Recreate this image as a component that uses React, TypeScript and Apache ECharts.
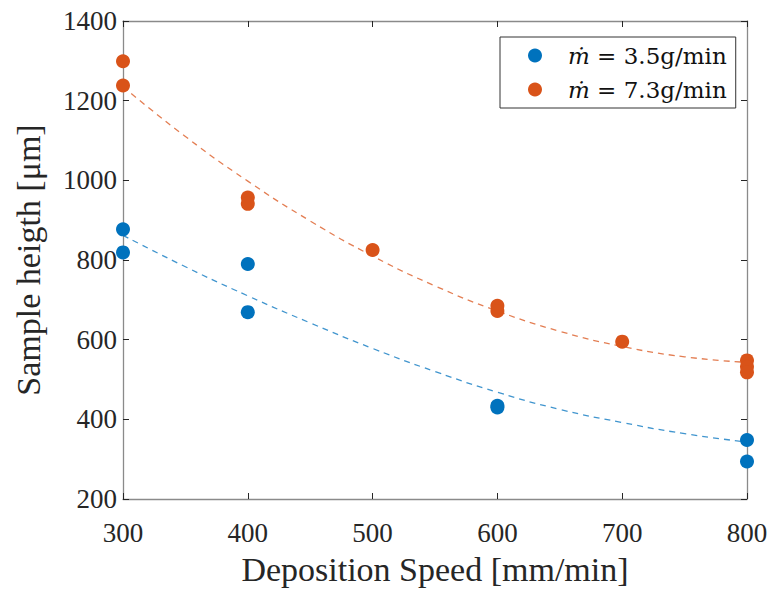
import React, { useEffect, useRef } from "react";
import * as echarts from "echarts";

const speeds35 = [300, 300, 400, 400, 600, 600, 800, 800];
const heights35 = [877, 819, 790, 669, 434, 430, 348, 294];
const speeds73 = [300, 300, 400, 400, 500, 600, 600, 700, 800, 800, 800];
const heights73 = [1299, 1238, 957, 941, 825, 685, 672, 595, 548, 532, 518];

const fitX = [300, 350, 400, 450, 500, 550, 600, 650, 700, 750, 800];
const fit35 = [862, 783, 710, 642, 578, 520, 468, 425, 392, 364, 343];
const fit73 = [1235, 1110, 998, 898, 810, 735, 672, 621, 583, 557, 543];

const xTicks = [300, 400, 500, 600, 700, 800];
const yTicks = [200, 400, 600, 800, 1000, 1200, 1400];

const BLUE = "#0072BD";
const ORANGE = "#D95319";
const FONT = "Liberation Serif";
const LEGEND_FONT = "DejaVu Serif";

export default function App() {
  const ref = useRef<HTMLDivElement>(null);
  useEffect(() => {
    if (!ref.current) return;
    const chart = echarts.init(ref.current, undefined, { renderer: "svg" });
    const pairs = (xs: number[], ys: number[]) => xs.map((x, i) => [x, ys[i]]);
    const axisLine = { show: true, lineStyle: { color: "#8a8a8a", width: 1.3 } };
    const axisTick = { show: true, inside: true, length: 6, lineStyle: { color: "#262626", width: 1 } };
    const label = { color: "#262626", fontFamily: FONT, fontSize: 27, formatter: (v: number) => String(v) };
    const legendRich = {
      s: { width: 21 },
      i: { fontFamily: LEGEND_FONT, fontStyle: "italic", fontSize: 23, color: "#111" },
      t: { fontFamily: LEGEND_FONT, fontSize: 23, color: "#111" },
    };
    chart.setOption({
      animation: false,
      backgroundColor: "#fff",
      grid: { left: 123, right: 24, top: 21, bottom: 86, containLabel: false },
      xAxis: [
        {
          type: "value",
          min: xTicks[0],
          max: xTicks[xTicks.length - 1],
          interval: 100,
          position: "bottom",
          axisLine,
          axisTick,
          splitLine: { show: false },
          axisLabel: { ...label, margin: 20 },
          name: "Deposition Speed [mm/min]",
          nameLocation: "middle",
          nameGap: 53,
          nameTextStyle: { color: "#262626", fontFamily: FONT, fontSize: 34 },
        },
        {
          type: "value",
          min: xTicks[0],
          max: xTicks[xTicks.length - 1],
          interval: 100,
          position: "top",
          axisLine,
          axisTick,
          splitLine: { show: false },
          axisLabel: { show: false },
        },
      ],
      yAxis: [
        {
          type: "value",
          min: yTicks[0],
          max: yTicks[yTicks.length - 1],
          interval: 200,
          position: "left",
          axisLine,
          axisTick,
          splitLine: { show: false },
          axisLabel: { ...label, margin: 6 },
          name: "Sample heigth [μm]",
          nameLocation: "middle",
          nameGap: 78,
          nameTextStyle: { color: "#262626", fontFamily: FONT, fontSize: 34 },
        },
        {
          type: "value",
          min: yTicks[0],
          max: yTicks[yTicks.length - 1],
          interval: 200,
          position: "right",
          axisLine,
          axisTick,
          splitLine: { show: false },
          axisLabel: { show: false },
        },
      ],
      legend: {
        orient: "vertical",
        left: 500,
        top: 37,
        padding: [7, 9, 7, 28],
        itemGap: 11,
        itemWidth: 14,
        itemHeight: 14,
        borderColor: "#333",
        borderWidth: 1,
        borderRadius: 0,
        backgroundColor: "#fff",
        data: [
          { name: "m35", icon: "circle" },
          { name: "m73", icon: "circle" },
        ],
        formatter: (name: string) =>
          name === "m35" ? "{s|}{i|ṁ}{t| = 3.5g/min}" : "{s|}{i|ṁ}{t| = 7.3g/min}",
        textStyle: { rich: legendRich, fontFamily: LEGEND_FONT, fontSize: 23 },
      },
      series: [
        {
          name: "fit35",
          type: "line",
          data: pairs(fitX, fit35),
          smooth: true,
          symbol: "none",
          lineStyle: { color: BLUE, width: 1.3, type: [6, 5], opacity: 0.75 },
          z: 1,
        },
        {
          name: "fit73",
          type: "line",
          data: pairs(fitX, fit73),
          smooth: true,
          symbol: "none",
          lineStyle: { color: ORANGE, width: 1.3, type: [6, 5], opacity: 0.75 },
          z: 1,
        },
        {
          name: "m35",
          type: "scatter",
          data: pairs(speeds35, heights35),
          symbol: "circle",
          symbolSize: 14,
          itemStyle: { color: BLUE, opacity: 1 },
          z: 3,
        },
        {
          name: "m73",
          type: "scatter",
          data: pairs(speeds73, heights73),
          symbol: "circle",
          symbolSize: 14,
          itemStyle: { color: ORANGE, opacity: 1 },
          z: 3,
        },
      ],
    });
    return () => chart.dispose();
  }, []);
  return (
    <div
      ref={ref}
      style={{ position: "absolute", left: 0, top: 0, width: 771, height: 591 }}
    />
  );
}
